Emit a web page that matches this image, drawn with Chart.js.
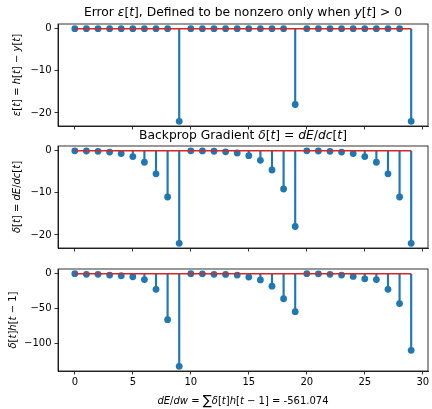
<!DOCTYPE html>
<html>
<head>
<meta charset="utf-8">
<script src="https://cdn.jsdelivr.net/npm/chart.js@4"></script>
<style>
body { margin: 0; background: #fff; }
#wrap { position: relative; width: 432px; height: 409px; }
canvas { position: absolute; left: 0; top: 0; }
</style>
</head>
<body>
<div id="wrap">
  <canvas id="c1" width="432" height="409"></canvas>
  <canvas id="c2" width="432" height="409"></canvas>
  <canvas id="c3" width="432" height="409"></canvas>
</div>
<script>
// time steps
const steps = [0,1,2,3,4,5,6,7,8,9,10,11,12,13,14,15,16,17,18,19,20,21,22,23,24,25,26,27,28,29];
// error e[t], only nonzero where y[t] > 0
const errorVals = [0,0,0,0,0,0,0,0,0,-22, 0,0,0,0,0,0,0,0,0,-18, 0,0,0,0,0,0,0,0,0,-22];
// backprop gradient delta[t]
const gradVals = [-0.04,-0.09,-0.17,-0.34,-0.69,-1.4,-2.75,-5.5,-11,-22,
                  -0.04,-0.07,-0.14,-0.28,-0.56,-1.2,-2.3,-4.6,-9.1,-18,
                  -0.04,-0.09,-0.17,-0.34,-0.69,-1.4,-2.75,-5.5,-11,-22];
// delta[t] * h[t-1]
const prodVals = [0,-1,-1,-2,-3,-4.5,-8.5,-22.5,-66,-133,
                  0,-0.3,-1,-1.2,-2,-5,-9,-18,-36,-54.5,
                  0,-0.3,-1,-2,-4,-7.5,-8.5,-22.5,-43,-110];

const xTicks = [0,5,10,15,20,25,30];
const errTicks = [0,-10,-20];
const gradTicks = [0,-10,-20];
const prodTicks = [0,-50,-100];

const FONT = '"DejaVu Sans"';
const BLUE = '#1f77b4';

// draw text where _..._ is italic and the sum sign is bigger
function drawRich(ctx, str, size, x, y, rot) {
  const parts = str.split(/(_[^_]*_|∑)/).filter(Boolean).map(t => {
    if (t[0] === '_') return {t: t.slice(1, -1), f: 'italic ' + size + 'px ' + FONT};
    if (t === '∑') return {t: t, f: (size * 1.35) + 'px ' + FONT};
    return {t: t, f: size + 'px ' + FONT};
  });
  ctx.save();
  ctx.translate(x, y);
  ctx.rotate(rot);
  let w = 0;
  parts.forEach(p => { ctx.font = p.f; p.w = ctx.measureText(p.t).width; w += p.w; });
  let cx = -w / 2;
  ctx.fillStyle = '#000';
  ctx.textAlign = 'left';
  ctx.textBaseline = 'middle';
  parts.forEach(p => { ctx.font = p.f; ctx.fillText(p.t, cx, 0); cx += p.w; });
  ctx.restore();
}

const framePlugin = {
  id: 'frame',
  afterDraw(chart, args, opts) {
    const ctx = chart.ctx, a = chart.chartArea;
    ctx.save();
    ctx.strokeStyle = '#000';
    ctx.lineWidth = 0.8;
    ctx.strokeRect(a.left, a.top, a.right - a.left, a.bottom - a.top);
    ctx.restore();
    const mid = (a.left + a.right) / 2;
    if (opts.title) drawRich(ctx, opts.title, 12.3, mid, opts.titleY, 0);
    if (opts.ylabel) drawRich(ctx, opts.ylabel, 10, opts.ylabelX, (a.top + a.bottom) / 2, -Math.PI / 2);
    if (opts.xlabel) drawRich(ctx, opts.xlabel, 10, mid, opts.xlabelY, 0);
  }
};

function minus(v) { return v < 0 ? '\u2212' + Math.abs(v) : String(v); }

function makePanel(id, vals, yTicks, yMin, yMax, padTop, padBottom, xHeight, showX, texts) {
  const pts = steps.map((t, i) => ({x: t, y: vals[i]}));
  new Chart(document.getElementById(id), {
    type: 'scatter',
    data: {
      datasets: [
        {type: 'line', data: [{x: steps[0], y: 0}, {x: steps[steps.length - 1], y: 0}],
         borderColor: '#d62728', borderWidth: 1.5, pointRadius: 0},
        {type: 'scatter', data: pts, backgroundColor: BLUE, pointRadius: 3.4, borderWidth: 0},
        {type: 'bar', data: pts, backgroundColor: BLUE, barThickness: 1.5}
      ]
    },
    options: {
      responsive: false,
      animation: false,
      devicePixelRatio: 1,
      layout: {padding: {left: 0, right: 4, top: padTop, bottom: padBottom}},
      plugins: {legend: {display: false}, tooltip: {enabled: false}, frame: texts},
      scales: {
        x: {
          type: 'linear', min: -1.45, max: 30.45, offset: false,
          afterBuildTicks: s => { s.ticks = xTicks.map(v => ({value: v})); },
          afterFit: s => { s.height = xHeight; s.paddingLeft = 0; s.paddingRight = 0; },
          grid: {offset: false, drawOnChartArea: false, drawTicks: true, tickLength: 3.5, color: '#000', lineWidth: 0.8},
          border: {display: true, color: '#000', width: 0.8},
          ticks: {display: showX, padding: 2, color: '#000', maxRotation: 0, autoSkip: false,
                  font: {family: FONT, size: 10}}
        },
        y: {
          type: 'linear', min: yMin, max: yMax,
          afterBuildTicks: s => { s.ticks = yTicks.map(v => ({value: v})); },
          afterFit: s => { s.width = 58; s.paddingTop = 0; s.paddingBottom = 0; },
          grid: {drawOnChartArea: false, drawTicks: true, tickLength: 3.5, color: '#000', lineWidth: 0.8},
          border: {display: true, color: '#000', width: 0.8},
          ticks: {padding: 3, color: '#000', callback: v => minus(v), font: {family: FONT, size: 10}}
        }
      }
    },
    plugins: [framePlugin]
  });
}

makePanel('c1', errorVals, errTicks, -23.1, 1.1, 24, 279, 4, false, {
  title: 'Error _ε_[_t_], Defined to be nonzero only when _y_[_t_] > 0', titleY: 13,
  ylabel: '_ε_[_t_] = _h_[_t_] − _y_[_t_]', ylabelX: 17
});
makePanel('c2', gradVals, gradTicks, -23.1, 1.1, 146, 157, 4, false, {
  title: 'Backprop Gradient _δ_[_t_] = _dE_/_dc_[_t_]', titleY: 136,
  ylabel: '_δ_[_t_] = _dE_/_dc_[_t_]', ylabelX: 17
});
makePanel('c3', prodVals, prodTicks, -139.65, 6.65, 269, 0, 38, true, {
  ylabel: '_δ_[_t_]_h_[_t_ − 1]', ylabelX: 13,
  xlabel: '_dE_/_dw_ = ∑_δ_[_t_]_h_[_t_ − 1] = -561.074', xlabelY: 401
});
</script>
</body>
</html>
